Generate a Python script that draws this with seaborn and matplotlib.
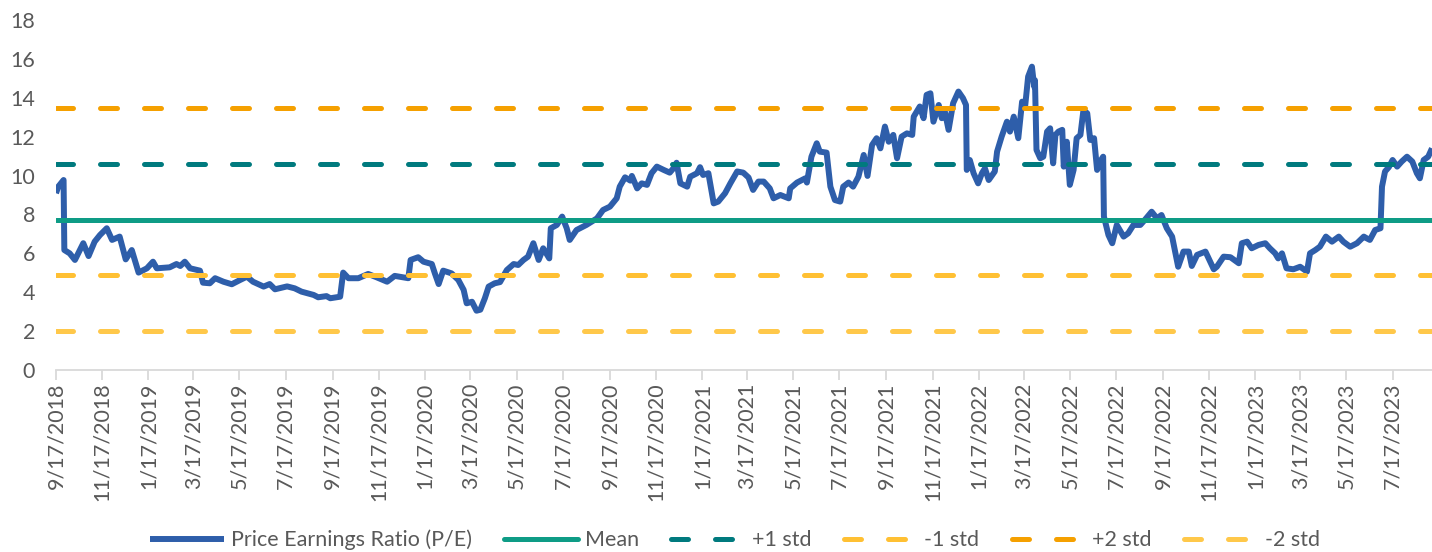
import matplotlib
matplotlib.use("Agg")
import matplotlib.pyplot as plt
import seaborn as sns
import pandas as pd

# ---------------- data ----------------
dates = [
    # 2018
    "2018-09-17", "2018-09-20", "2018-09-27", "2018-09-28", "2018-10-05", "2018-10-12", "2018-10-23",
    "2018-10-30", "2018-11-07", "2018-11-14", "2018-11-23", "2018-11-30", "2018-12-10", "2018-12-18",
    "2018-12-26",
    # 2019
    "2019-01-04", "2019-01-15", "2019-01-23", "2019-01-28", "2019-02-14", "2019-02-23", "2019-02-28",
    "2019-03-06", "2019-03-13", "2019-03-26", "2019-03-30", "2019-04-08", "2019-04-15", "2019-04-26",
    "2019-05-07", "2019-05-18", "2019-05-27", "2019-06-04", "2019-06-18", "2019-06-26", "2019-07-03",
    "2019-07-19", "2019-07-29", "2019-08-07", "2019-08-23", "2019-08-29", "2019-09-09", "2019-09-14",
    "2019-09-27", "2019-10-01", "2019-10-08", "2019-10-21", "2019-11-03", "2019-11-14", "2019-11-28",
    "2019-12-08", "2019-12-26", "2019-12-29",
    # 2020
    "2020-01-08", "2020-01-15", "2020-01-26", "2020-01-30", "2020-02-04", "2020-02-10", "2020-02-21",
    "2020-03-01", "2020-03-08", "2020-03-12", "2020-03-19", "2020-03-25", "2020-03-30", "2020-04-05",
    "2020-04-10", "2020-04-18", "2020-04-25", "2020-05-04", "2020-05-13", "2020-05-19", "2020-05-26",
    "2020-06-01", "2020-06-08", "2020-06-15", "2020-06-21", "2020-06-29", "2020-07-01", "2020-07-09",
    "2020-07-16", "2020-07-22", "2020-07-26", "2020-08-04", "2020-08-17", "2020-08-31", "2020-09-08",
    "2020-09-17", "2020-09-26", "2020-09-30", "2020-10-07", "2020-10-14", "2020-10-16", "2020-10-23",
    "2020-10-29", "2020-11-05", "2020-11-11", "2020-11-18", "2020-11-27", "2020-12-05", "2020-12-10",
    "2020-12-14", "2020-12-19", "2020-12-28",
    # 2021
    "2021-01-01", "2021-01-10", "2021-01-14", "2021-01-18", "2021-01-25", "2021-02-01", "2021-02-07",
    "2021-02-16", "2021-02-23", "2021-03-04", "2021-03-12", "2021-03-19", "2021-03-25", "2021-04-01",
    "2021-04-08", "2021-04-16", "2021-04-21", "2021-04-30", "2021-05-11", "2021-05-13", "2021-05-22",
    "2021-06-02", "2021-06-04", "2021-06-10", "2021-06-17", "2021-06-21", "2021-06-30", "2021-07-05",
    "2021-07-11", "2021-07-18", "2021-07-22", "2021-07-29", "2021-08-04", "2021-08-11", "2021-08-18",
    "2021-08-23", "2021-08-29", "2021-09-04", "2021-09-09", "2021-09-15", "2021-09-20", "2021-09-26",
    "2021-10-01", "2021-10-07", "2021-10-14", "2021-10-21", "2021-10-23", "2021-10-31", "2021-11-05",
    "2021-11-09", "2021-11-14", "2021-11-18", "2021-11-25", "2021-11-29", "2021-12-03", "2021-12-08",
    "2021-12-14", "2021-12-21", "2021-12-27", "2021-12-31",
    # 2022
    "2022-01-01", "2022-01-05", "2022-01-10", "2022-01-16", "2022-01-21", "2022-01-25", "2022-01-30",
    "2022-02-07", "2022-02-10", "2022-02-16", "2022-02-23", "2022-02-27", "2022-03-04", "2022-03-10",
    "2022-03-15", "2022-03-19", "2022-03-23", "2022-03-28", "2022-03-31", "2022-04-01", "2022-04-03",
    "2022-04-08", "2022-04-12", "2022-04-17", "2022-04-21", "2022-04-25", "2022-04-28", "2022-05-02",
    "2022-05-07", "2022-05-09", "2022-05-13", "2022-05-17", "2022-05-22", "2022-05-26", "2022-05-31",
    "2022-06-04", "2022-06-09", "2022-06-13", "2022-06-18", "2022-06-22", "2022-06-26", "2022-06-30",
    "2022-07-01", "2022-07-07", "2022-07-12", "2022-07-18", "2022-07-27", "2022-08-02", "2022-08-09",
    "2022-08-18", "2022-08-24", "2022-09-02", "2022-09-09", "2022-09-15", "2022-09-22", "2022-09-29",
    "2022-10-03", "2022-10-07", "2022-10-14", "2022-10-21", "2022-10-25", "2022-11-01", "2022-11-12",
    "2022-11-23", "2022-11-27", "2022-12-06", "2022-12-15", "2022-12-26", "2022-12-30",
    # 2023
    "2023-01-06", "2023-01-12", "2023-01-21", "2023-01-30", "2023-02-05", "2023-02-12", "2023-02-16",
    "2023-02-21", "2023-02-27", "2023-03-08", "2023-03-17", "2023-03-26", "2023-03-30", "2023-04-06",
    "2023-04-12", "2023-04-20", "2023-04-28", "2023-05-07", "2023-05-13", "2023-05-22", "2023-05-31",
    "2023-06-09", "2023-06-13", "2023-06-17", "2023-06-24", "2023-07-01", "2023-07-03", "2023-07-07",
    "2023-07-12", "2023-07-17", "2023-07-23", "2023-07-29", "2023-08-05", "2023-08-12", "2023-08-18",
    "2023-08-22", "2023-08-27", "2023-09-02", "2023-09-07",
]

pe = [
    # 2018
    9.09, 9.43, 9.77, 6.17, 6.00, 5.66, 6.52, 5.86, 6.60, 6.94, 7.29, 6.69, 6.86, 5.69, 6.17,
    # 2019
    5.01, 5.23, 5.57, 5.23, 5.28, 5.45, 5.35, 5.57, 5.23, 5.11, 4.49, 4.46, 4.72, 4.54,
    4.41, 4.63, 4.80, 4.54, 4.29, 4.42, 4.15, 4.30, 4.20, 4.03, 3.86, 3.74, 3.80, 3.69,
    3.77, 5.01, 4.72, 4.72, 4.94, 4.77, 4.54, 4.84, 4.72, 5.66,
    # 2020
    5.80, 5.57, 5.45, 4.97, 4.42, 5.11, 4.97, 4.63, 4.12, 3.43, 3.51, 3.05, 3.10, 3.69,
    4.29, 4.46, 4.52, 5.14, 5.45, 5.40, 5.66, 5.83, 6.52, 5.66, 6.26, 5.74, 7.29, 7.46,
    7.89, 7.29, 6.69, 7.20, 7.46, 7.80, 8.23, 8.40, 8.83, 9.43, 9.91, 9.74, 9.98, 9.34,
    9.60, 9.52, 10.12, 10.46, 10.29, 10.15, 10.38, 10.66, 9.60, 9.43,
    # 2021
    9.94, 10.12, 10.43, 10.03, 10.12, 8.57, 8.66, 9.09, 9.60, 10.21, 10.15, 9.90, 9.26, 9.69,
    9.69, 9.34, 8.83, 9.00, 8.83, 9.34, 9.64, 9.86, 9.64, 10.97, 11.66, 11.23, 11.18, 9.43,
    8.74, 8.66, 9.43, 9.64, 9.43, 9.94, 11.06, 9.98, 11.57, 11.92, 11.40, 12.52, 11.74, 12.09,
    10.89, 12.00, 12.17, 12.09, 13.03, 13.55, 12.95, 14.15, 14.23, 12.77, 13.63, 12.95, 13.30, 12.35,
    13.72, 14.32, 13.98, 13.63,
    # 2022
    10.29, 10.80, 10.12, 9.60, 10.12, 10.37, 9.77, 10.21, 11.23, 12.00, 12.77, 12.26, 13.03, 11.92,
    13.80, 13.55, 15.09, 15.60, 14.57, 14.90, 11.32, 10.89, 10.97, 12.26, 12.43, 10.63, 12.09, 12.26,
    12.35, 10.46, 11.74, 9.52, 10.29, 11.92, 12.09, 13.37, 13.20, 11.83, 11.92, 10.29, 10.72, 10.97,
    7.89, 6.94, 6.52, 7.46, 6.86, 7.03, 7.46, 7.46, 7.72, 8.14, 7.80, 7.97, 7.29, 6.86,
    6.09, 5.31, 6.09, 6.09, 5.35, 5.92, 6.09, 5.18, 5.31, 5.83, 5.80, 5.49, 6.52,
    # 2023
    6.60, 6.26, 6.43, 6.52, 6.26, 6.00, 5.74, 6.00, 5.23, 5.18, 5.31, 5.06, 6.00, 6.17,
    6.34, 6.86, 6.60, 6.86, 6.60, 6.34, 6.52, 6.86, 6.77, 6.69, 7.20, 7.29, 9.43, 10.21,
    10.43, 10.80, 10.46, 10.72, 10.97, 10.72, 10.12, 9.86, 10.80, 10.97, 11.40,
]

mean_pe = 7.73
plus_1_std = 10.59
minus_1_std = 4.87
plus_2_std = 13.45
minus_2_std = 2.01

tick_labels = [
    "9/17/2018", "11/17/2018", "1/17/2019", "3/17/2019", "5/17/2019", "7/17/2019",
    "9/17/2019", "11/17/2019", "1/17/2020", "3/17/2020", "5/17/2020", "7/17/2020",
    "9/17/2020", "11/17/2020", "1/17/2021", "3/17/2021", "5/17/2021", "7/17/2021",
    "9/17/2021", "11/17/2021", "1/17/2022", "3/17/2022", "5/17/2022", "7/17/2022",
    "9/17/2022", "11/17/2022", "1/17/2023", "3/17/2023", "5/17/2023", "7/17/2023",
]

assert len(dates) == len(pe)

# ---------------- style ----------------
sns.set_theme(style="white")
plt.rcParams["font.family"] = ["Lato", "DejaVu Sans"]
TXT = "#595959"
FS = 15.5

W, H = 1432, 552
fig = plt.figure(figsize=(W / 100, H / 100), dpi=100)
ax = fig.add_axes([56 / W, 1 - 370 / H, 1 - 56 / W, (370 - 20) / H])

df = pd.DataFrame({"Date": pd.to_datetime(dates), "PE": pe})
x0, x1 = df["Date"].min(), df["Date"].max()

sns.lineplot(data=df, x="Date", y="PE", ax=ax, color="#2E5EAA", linewidth=4.3,
             label="Price Earnings Ratio (P/E)", solid_joinstyle="round",
             solid_capstyle="butt")

bands = [
    ("Mean", mean_pe, "#0E9C86", None),
    ("+1 std", plus_1_std, "#007A7E", (0, (3.4, 5.4))),
    ("-1 std", minus_1_std, "#FFC033", (0, (3.4, 5.4))),
    ("+2 std", plus_2_std, "#F5A000", (0, (3.4, 5.4))),
    ("-2 std", minus_2_std, "#FFC84A", (0, (3.4, 5.4))),
]
for name, val, color, ls in bands:
    bdf = pd.DataFrame({"Date": [x0, x1], "v": [val, val]})
    kw = dict(color=color, linewidth=3.6, label=name)
    if ls is not None:
        kw.update(linestyle=ls, dash_capstyle="round")
    sns.lineplot(data=bdf, x="Date", y="v", ax=ax, **kw)

ax.set_xlim(x0, x1)
ax.set_ylim(0, 18)
ax.set_yticks(range(0, 19, 2))
ax.set_xticks(pd.to_datetime(tick_labels, format="%m/%d/%Y"))
ax.set_xticklabels(tick_labels, rotation=90)
ax.set_xlabel("")
ax.set_ylabel("")

for s in ["top", "right", "left"]:
    ax.spines[s].set_visible(False)
ax.spines["bottom"].set_color("#D9D9D9")
ax.spines["bottom"].set_linewidth(1.3)
ax.tick_params(axis="x", colors="#D9D9D9", length=7, width=1.3, direction="out",
               labelcolor=TXT, labelsize=FS, pad=2, bottom=True)
ax.tick_params(axis="y", length=0, labelcolor=TXT, labelsize=FS, pad=15)
ax.grid(False)

if ax.get_legend() is not None:
    ax.get_legend().remove()
handles, labels = ax.get_legend_handles_labels()
fig.legend(handles, labels, loc="center", bbox_to_anchor=(735 / W, 1 - 540 / H),
           ncol=6, frameon=False, fontsize=FS, labelcolor=TXT, handlelength=3.45,
           columnspacing=1.5, handletextpad=0.3)

fig.savefig("out.png", dpi=100)
